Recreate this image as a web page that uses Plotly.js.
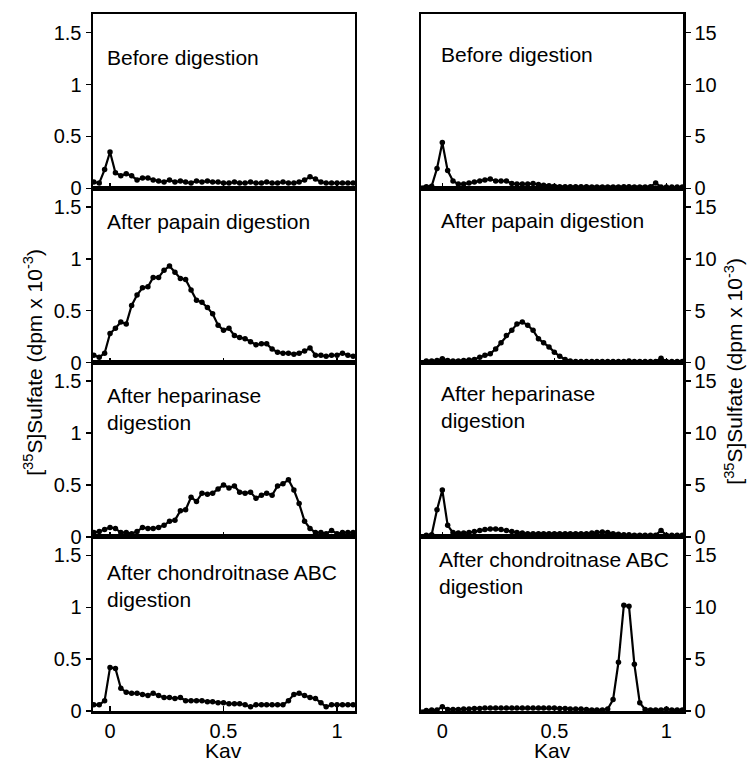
<!DOCTYPE html>
<html>
<head>
<meta charset="utf-8">
<script src="https://cdn.plot.ly/plotly-3.0.1.min.js"></script>
<style>html,body{margin:0;padding:0;background:#fff;}#chart{width:749px;height:761px;}</style>
</head>
<body>
<div id="chart"></div>
<script>
// ---- data ----
const kavLeft = [-0.0714, -0.0476, -0.0238, 0, 0.0238, 0.0476, 0.0714, 0.0952, 0.119, 0.143,
  0.167, 0.190, 0.214, 0.238, 0.262, 0.286, 0.310, 0.333, 0.357, 0.381,
  0.405, 0.429, 0.452, 0.476, 0.500, 0.524, 0.548, 0.571, 0.595, 0.619,
  0.643, 0.667, 0.690, 0.714, 0.738, 0.762, 0.786, 0.810, 0.833, 0.857,
  0.881, 0.905, 0.929, 0.952, 0.976, 1.000, 1.024, 1.048, 1.071];
const kavRight = [-0.0952, -0.0714, -0.0476, -0.0238, 0, 0.0238, 0.0476, 0.0714, 0.0952, 0.119,
  0.143, 0.167, 0.190, 0.214, 0.238, 0.262, 0.286, 0.310, 0.333, 0.357,
  0.381, 0.405, 0.429, 0.452, 0.476, 0.500, 0.524, 0.548, 0.571, 0.595,
  0.619, 0.643, 0.667, 0.690, 0.714, 0.738, 0.762, 0.786, 0.810, 0.833,
  0.857, 0.881, 0.905, 0.929, 0.952, 0.976, 1.000, 1.024, 1.048, 1.071];

const beforeLeft = [0.06, 0.05, 0.18, 0.35, 0.15, 0.12, 0.14, 0.12, 0.08, 0.10,
  0.10, 0.08, 0.07, 0.06, 0.08, 0.06, 0.07, 0.06, 0.05, 0.07,
  0.06, 0.07, 0.06, 0.06, 0.05, 0.05, 0.06, 0.05, 0.05, 0.06,
  0.05, 0.05, 0.06, 0.05, 0.05, 0.06, 0.05, 0.05, 0.06, 0.08,
  0.11, 0.09, 0.06, 0.05, 0.05, 0.05, 0.05, 0.05, 0.05];
const papainLeft = [0.07, 0.05, 0.09, 0.28, 0.33, 0.39, 0.37, 0.55, 0.65, 0.72,
  0.73, 0.82, 0.82, 0.89, 0.93, 0.87, 0.81, 0.80, 0.70, 0.60,
  0.58, 0.53, 0.47, 0.36, 0.31, 0.33, 0.26, 0.24, 0.23, 0.20,
  0.17, 0.18, 0.18, 0.13, 0.10, 0.09, 0.09, 0.08, 0.09, 0.11,
  0.14, 0.07, 0.07, 0.06, 0.07, 0.07, 0.09, 0.07, 0.06];
const heparinaseLeft = [0.04, 0.05, 0.07, 0.09, 0.08, 0.04, 0.04, 0.03, 0.05, 0.09,
  0.08, 0.08, 0.09, 0.11, 0.15, 0.16, 0.25, 0.26, 0.38, 0.34,
  0.42, 0.41, 0.42, 0.46, 0.50, 0.47, 0.49, 0.43, 0.42, 0.43,
  0.37, 0.40, 0.42, 0.40, 0.49, 0.51, 0.55, 0.45, 0.32, 0.15,
  0.08, 0.04, 0.04, 0.03, 0.06, 0.03, 0.04, 0.04, 0.04];
const chondLeft = [0.06, 0.06, 0.10, 0.42, 0.41, 0.22, 0.18, 0.17, 0.17, 0.16,
  0.15, 0.17, 0.15, 0.13, 0.13, 0.12, 0.13, 0.10, 0.10, 0.10,
  0.10, 0.09, 0.09, 0.08, 0.08, 0.07, 0.07, 0.07, 0.06, 0.04,
  0.06, 0.06, 0.06, 0.06, 0.06, 0.06, 0.10, 0.16, 0.17, 0.15,
  0.13, 0.12, 0.08, 0.04, 0.06, 0.06, 0.06, 0.06, 0.06];

const beforeRight = [0.15, 0.15, 0.2, 1.9, 4.4, 1.7, 0.7, 0.4, 0.4, 0.5,
  0.6, 0.7, 0.8, 0.9, 0.7, 0.7, 0.7, 0.45, 0.4, 0.4,
  0.4, 0.45, 0.35, 0.3, 0.25, 0.2, 0.15, 0.15, 0.15, 0.15,
  0.15, 0.15, 0.12, 0.12, 0.12, 0.12, 0.12, 0.12, 0.15, 0.15,
  0.12, 0.12, 0.12, 0.15, 0.5, 0.12, 0.12, 0.12, 0.12, 0.12];
const papainRight = [0.1, 0.15, 0.15, 0.2, 0.35, 0.2, 0.15, 0.15, 0.2, 0.25,
  0.3, 0.5, 0.7, 0.85, 1.3, 1.9, 2.6, 3.1, 3.7, 3.9,
  3.6, 3.1, 2.3, 1.9, 1.5, 1.0, 0.6, 0.3, 0.15, 0.1,
  0.1, 0.1, 0.1, 0.1, 0.1, 0.1, 0.1, 0.1, 0.1, 0.15,
  0.1, 0.1, 0.1, 0.1, 0.1, 0.4, 0.1, 0.1, 0.1, 0.1];
const heparinaseRight = [0.1, 0.15, 0.2, 2.6, 4.5, 1.1, 0.4, 0.35, 0.35, 0.4,
  0.5, 0.6, 0.7, 0.75, 0.75, 0.7, 0.6, 0.5, 0.4, 0.35,
  0.3, 0.3, 0.3, 0.3, 0.3, 0.3, 0.3, 0.3, 0.3, 0.3,
  0.3, 0.3, 0.35, 0.4, 0.45, 0.4, 0.3, 0.25, 0.2, 0.2,
  0.15, 0.15, 0.15, 0.15, 0.15, 0.6, 0.15, 0.15, 0.15, 0.15];
const chondRight = [0.05, 0.05, 0.1, 0.1, 0.4, 0.15, 0.15, 0.15, 0.2, 0.2,
  0.25, 0.25, 0.3, 0.3, 0.3, 0.3, 0.3, 0.3, 0.3, 0.3,
  0.3, 0.3, 0.3, 0.3, 0.3, 0.3, 0.25, 0.25, 0.2, 0.2,
  0.2, 0.15, 0.1, 0.1, 0.1, 0.2, 1.1, 4.7, 10.2, 10.1,
  4.5, 0.8, 0.15, 0.1, 0.1, 0.1, 0.2, 0.1, 0.1, 0.1];

const panelLabels = ['Before digestion', 'After papain digestion',
  'After heparinase<br>digestion', 'After chondroitnase ABC<br>digestion'];
const leftTickVals = [0, 0.5, 1, 1.5];
const leftTickText = ['0', '0.5', '1', '1.5'];
const rightTickVals = [0, 5, 10, 15];
const rightTickText = ['0', '5', '10', '15'];
const xTickVals = [0, 0.5, 1];
const xTickText = ['0', '0.5', '1'];
const yTitle = '[<sup>35</sup>S]Sulfate (dpm x 10<sup>-3</sup>)';
const xTitle = 'Kav';

// ---- build ----
const leftSeries = [beforeLeft, papainLeft, heparinaseLeft, chondLeft];
const rightSeries = [beforeRight, papainRight, heparinaseRight, chondRight];
const FONT = 'Liberation Sans, Arial, Helvetica, sans-serif';
const traces = [];
const layout = {
  width: 749, height: 761,
  margin: {l: 93, r: 66, t: 14, b: 50},
  paper_bgcolor: '#fff', plot_bgcolor: '#fff',
  showlegend: false,
  font: {family: FONT, size: 20, color: '#000'},
  annotations: []
};
const yDomains = [[0.75, 1], [0.5, 0.75], [0.25, 0.5], [0, 0.25]];
const xDomains = [[0, 0.444], [0.556, 1]];
const labelPos = [
  [[0.0203, 0.9383], [0.5864, 0.9412]],
  [[0.0203, 0.7020], [0.5864, 0.7044]],
  [[0.0203, 0.4330], [0.5864, 0.4359]],
  [[0.0203, 0.1796], [0.5830, 0.1976]]
];

for (let r = 0; r < 4; r++) {
  for (let c = 0; c < 2; c++) {
    const idx = r * 2 + c + 1;
    const xa = 'x' + (idx === 1 ? '' : idx);
    const ya = 'y' + (idx === 1 ? '' : idx);
    const xs = c === 0 ? kavLeft : kavRight;
    const ys = c === 0 ? leftSeries[r] : rightSeries[r];
    traces.push({
      x: xs, y: ys, xaxis: xa, yaxis: ya, type: 'scatter', mode: 'lines+markers',
      line: {color: '#000', width: 2.2}, marker: {color: '#000', size: 5.5},
      cliponaxis: false, hoverinfo: 'skip'
    });
    const xKey = 'xaxis' + (idx === 1 ? '' : idx);
    const yKey = 'yaxis' + (idx === 1 ? '' : idx);
    layout[xKey] = {
      domain: xDomains[c], anchor: ya,
      range: c === 0 ? [-0.075, 1.079] : [-0.095, 1.074],
      showgrid: false, zeroline: false,
      showline: true, mirror: true, linecolor: '#000', linewidth: 2.5,
      ticks: 'inside', ticklen: 5, tickwidth: 1.5, tickcolor: '#000',
      tickmode: 'array', tickvals: xTickVals, ticktext: xTickText,
      showticklabels: r === 3, tickfont: {family: FONT, size: 20, color: '#000'}
    };
    layout[yKey] = {
      domain: yDomains[r], anchor: xa,
      side: c === 0 ? 'left' : 'right',
      range: c === 0 ? [0, 1.68] : [0, 16.8],
      showgrid: false, zeroline: false,
      showline: true, mirror: true, linecolor: '#000', linewidth: 2.5,
      ticks: 'outside', ticklen: 5, tickwidth: 1.5, tickcolor: '#000',
      tickmode: 'array',
      tickvals: c === 0 ? leftTickVals : rightTickVals,
      ticktext: c === 0 ? leftTickText : rightTickText,
      tickfont: {family: FONT, size: 20, color: '#000'}
    };
    layout.annotations.push({
      xref: 'paper', yref: 'paper', x: labelPos[r][c][0], y: labelPos[r][c][1],
      xanchor: 'left', yanchor: 'middle', align: 'left', showarrow: false,
      text: panelLabels[r], font: {family: FONT, size: 21, color: '#000'}
    });
  }
}
// column titles
layout.annotations.push({xref: 'paper', yref: 'paper', x: -0.103, y: 0.5, textangle: -90,
  xanchor: 'center', yanchor: 'middle', showarrow: false, text: yTitle,
  font: {family: FONT, size: 21, color: '#000'}});
layout.annotations.push({xref: 'paper', yref: 'paper', x: 1.085, y: 0.487, textangle: -90,
  xanchor: 'center', yanchor: 'middle', showarrow: false, text: yTitle,
  font: {family: FONT, size: 21, color: '#000'}});
layout.annotations.push({xref: 'paper', yref: 'paper', x: 0.222, y: -0.056,
  xanchor: 'center', yanchor: 'middle', showarrow: false, text: xTitle,
  font: {family: FONT, size: 21, color: '#000'}});
layout.annotations.push({xref: 'paper', yref: 'paper', x: 0.778, y: -0.056,
  xanchor: 'center', yanchor: 'middle', showarrow: false, text: xTitle,
  font: {family: FONT, size: 21, color: '#000'}});

Plotly.newPlot('chart', traces, layout, {staticPlot: true, displayModeBar: false});
</script>
</body>
</html>
